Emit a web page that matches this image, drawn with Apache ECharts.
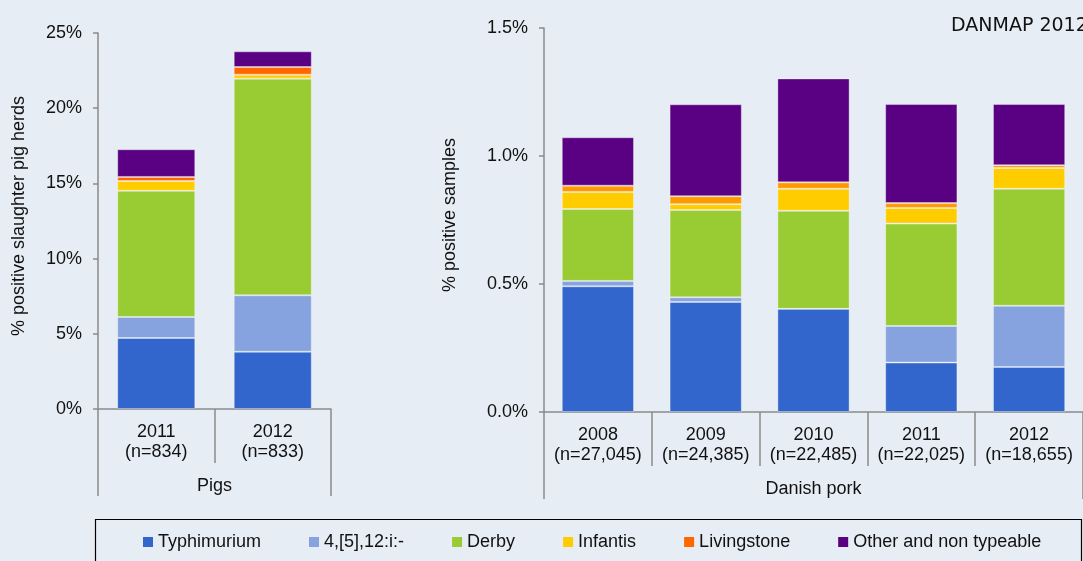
<!DOCTYPE html>
<html>
<head>
<meta charset="utf-8">
<script src="https://cdn.jsdelivr.net/npm/echarts@6/dist/echarts.min.js"></script>
<style>
html,body{margin:0;padding:0;background:#e7edf4;}
#c{width:1083px;height:561px;}
</style>
</head>
<body>
<div id="c"></div>
<script>
var seriesNames = ['Typhimurium', '4,[5],12:i:-', 'Derby', 'Infantis', 'Livingstone', 'Other and non typeable'];
var pigCats = ['2011\n(n=834)', '2012\n(n=833)'];
var porkCats = ['2008\n(n=27,045)', '2009\n(n=24,385)', '2010\n(n=22,485)', '2011\n(n=22,025)', '2012\n(n=18,655)'];
var pigGroup = ['Pigs'];
var porkGroup = ['Danish pork'];

var pigTyph  = [4.72, 3.81];
var pigMono  = [1.40, 3.75];
var pigDerby = [8.39, 14.40];
var pigInf   = [0.65, 0.27];
var pigLiv   = [0.27, 0.51];
var pigOther = [1.84, 1.04];

var porkTyph  = [0.491, 0.430, 0.403, 0.193, 0.176];
var porkMono  = [0.021, 0.018, 0.000, 0.143, 0.239];
var porkDerby = [0.281, 0.341, 0.383, 0.400, 0.457];
var porkInf   = [0.066, 0.023, 0.086, 0.061, 0.081];
var porkLiv   = [0.025, 0.031, 0.025, 0.019, 0.011];
var porkOther = [0.189, 0.359, 0.406, 0.387, 0.239];

var colorsLeft  = ['#3366cc', '#86a3df', '#99cc33', '#ffcc00', '#ff6600', '#5a0082'];
var colorsRight = ['#3366cc', '#86a3df', '#99cc33', '#ffcc00', '#ff9900', '#5a0082'];

var FONT = 'Liberation Sans, Arial, sans-serif';
var AX = '#8a8a8a';
var FS = 18;

function mkSeries(name, data, color, xi, yi, stack) {
  return {
    name: name, type: 'bar', stack: stack, data: data,
    xAxisIndex: xi, yAxisIndex: yi, barWidth: '67%',
    itemStyle: { color: color, borderColor: 'rgba(255,255,255,0.35)', borderWidth: 1 },
    emphasis: { disabled: true }
  };
}

var pigData = [pigTyph, pigMono, pigDerby, pigInf, pigLiv, pigOther];
var porkData = [porkTyph, porkMono, porkDerby, porkInf, porkLiv, porkOther];
var series = [];
for (var i = 0; i < seriesNames.length; i++) series.push(mkSeries(seriesNames[i], pigData[i], colorsLeft[i], 0, 0, 'L'));
for (var j = 0; j < seriesNames.length; j++) series.push(mkSeries(seriesNames[j], porkData[j], colorsRight[j], 2, 2, 'R'));

function catAxis(gi, data, tickLen, margin, showLine) {
  return {
    type: 'category', gridIndex: gi, data: data, position: 'bottom',
    axisLine: { show: showLine, lineStyle: { color: AX, width: 1.5 } },
    axisTick: { show: true, length: tickLen, interval: 0, lineStyle: { color: AX, width: 1.5 } },
    axisLabel: { interval: 0, margin: margin, color: '#111', fontSize: FS, fontFamily: FONT, lineHeight: 20 }
  };
}

var option = {
  backgroundColor: '#e7edf4',
  animation: false,
  title: {
    text: 'DANMAP 2012', left: 946, top: 12,
    textStyle: { fontFamily: 'DejaVu Sans', fontWeight: 'normal', fontSize: 19, color: '#111' }
  },
  graphic: [
    { type: 'rect', left: 93, top: 517, shape: { width: 986, height: 60 },
      style: { fill: 'none', stroke: '#000', lineWidth: 1.2 }, silent: true }
  ],
  grid: [
    { left: 98, right: 752, top: 33, bottom: 152 },
    { left: 98, right: 752, top: 33, bottom: 152 },
    { left: 544, right: -1, top: 28, bottom: 149 },
    { left: 544, right: -1, top: 28, bottom: 149 }
  ],
  xAxis: [
    catAxis(0, pigCats, 54, 13, true),
    catAxis(1, pigGroup, 87, 67, false),
    catAxis(2, porkCats, 54, 13, true),
    catAxis(3, porkGroup, 87, 67, false)
  ],
  yAxis: [
    {
      type: 'value', gridIndex: 0, min: 0, max: 25, interval: 5,
      name: '% positive slaughter pig herds', nameLocation: 'middle', nameGap: 70, nameRotate: 90,
      nameTextStyle: { fontSize: FS, fontFamily: FONT, color: '#111', padding: [0, 0, 0, 10] },
      axisLine: { show: true, lineStyle: { color: AX, width: 1.5 } },
      axisTick: { show: true, length: 5, lineStyle: { color: AX, width: 1.5 } },
      splitLine: { show: false },
      axisLabel: { margin: 16, color: '#111', fontSize: FS, fontFamily: FONT, formatter: function (v) { return v + '%'; } }
    },
    { type: 'value', gridIndex: 1, min: 0, max: 1, show: false },
    {
      type: 'value', gridIndex: 2, min: 0, max: 1.5, interval: 0.5,
      name: '% positive samples', nameLocation: 'middle', nameGap: 85, nameRotate: 90,
      nameTextStyle: { fontSize: FS, fontFamily: FONT, color: '#111', padding: [0, 0, 0, 10] },
      axisLine: { show: true, lineStyle: { color: AX, width: 1.5 } },
      axisTick: { show: true, length: 5, lineStyle: { color: AX, width: 1.5 } },
      splitLine: { show: false },
      axisLabel: { margin: 16, color: '#111', fontSize: FS, fontFamily: FONT, formatter: function (v) { return v.toFixed(1) + '%'; } }
    },
    { type: 'value', gridIndex: 3, min: 0, max: 1, show: false }
  ],
  legend: {
    data: seriesNames, left: 143, top: 533, padding: 0,
    itemWidth: 10, itemHeight: 10, itemGap: 48, icon: 'rect',
    itemStyle: { borderWidth: 0 },
    textStyle: { fontSize: FS, fontFamily: FONT, color: '#111' },
    selectedMode: false
  },
  series: series
};

var chart = echarts.init(document.getElementById('c'), null, { renderer: 'canvas' });
chart.setOption(option);
</script>
</body>
</html>
